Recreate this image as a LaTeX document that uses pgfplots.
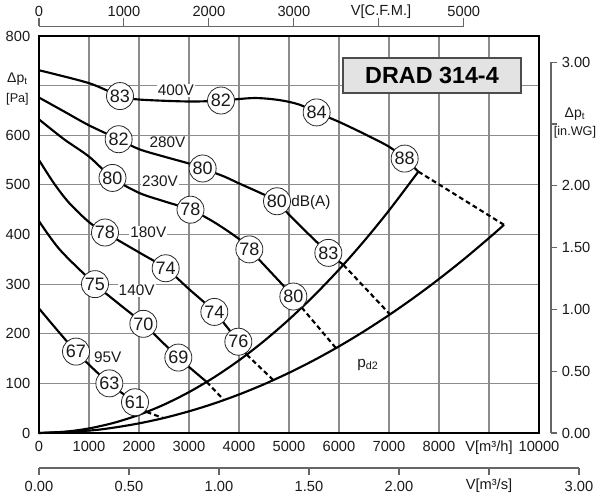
\documentclass[border=0pt]{standalone}
\usepackage{fontspec}
\setmainfont{Liberation Sans}
\usepackage{pgfplots}
\pgfplotsset{compat=1.18}
\newcommand\fs[1]{\fontsize{#1}{#1}\selectfont}
\definecolor{gridc}{HTML}{8C8C8C}
\definecolor{scalec}{HTML}{666666}
\definecolor{txt}{HTML}{1A1A1A}
\definecolor{boxc}{HTML}{E3E3E3}
\begin{document}
\begin{tikzpicture}
\begin{axis}[
 at={(0,0)}, anchor=south west,
 scale only axis, width=375pt, height=297.75pt,
 xmin=0, xmax=10000, ymin=0, ymax=800,
 clip=false,
 xtick={0,1000,2000,3000,4000,5000,6000,7000,8000,9000,10000},
 xticklabels={0,1000,2000,3000,4000,5000,6000,7000,8000,{V[m³/h]},10000},
 ytick={0,100,200,300,400,500,600,700,800},
 yticklabels={0,100,200,300,400,500,600,{},800},
 major tick length=0pt,
 grid=major,
 major grid style={gridc, line width=0.8pt},
 axis line style={line width=2.2pt, black},
 xticklabel style={anchor=base, yshift=-13.9pt, font=\fs{11}, text=txt, inner sep=0pt},
 yticklabel style={anchor=east, xshift=-6.4pt, font=\fs{11}, text=txt, inner sep=0pt},
 scaled ticks=false,
]
% system curves
\addplot[black, line width=1.6pt, smooth] coordinates {(0,0) (500,2.3) (1000,9.2) (1500,20.6) (2000,36.6) (2500,57.2) (3000,82.4) (3500,112.1) (4000,146.4) (4500,185.3) (5000,228.8) (5500,276.8) (6000,329.4) (6500,386.6) (7000,448.4) (7587,526.7)};
\addplot[black, line width=1.6pt, smooth] coordinates {(0,0) (1000,4.9) (1500,10.9) (2000,19.4) (2500,30.3) (3000,43.7) (3500,59.4) (4000,77.6) (4500,98.2) (5000,121.3) (5500,146.7) (6000,174.6) (6500,204.9) (7000,237.7) (7500,272.8) (8000,310.4) (8500,350.4) (9000,392.9) (9300,419.5)};
% fan curves
\addplot[black, line width=1.6pt, smooth] coordinates {(0,731) (1000,705) (1620,679) (2000,672) (3000,668) (3640,670) (4300,675) (4800,671) (5200,662) (5553,646) (6000,627) (6500,603) (7000,577) (7313,553) (7587,526.7)};
\addplot[black, line width=1.6pt, smooth] coordinates {(0,676) (500,648) (1000,620) (1593,592) (2000,572) (2500,557) (3000,543) (3273,533) (3700,517) (4000,503) (4400,485) (4760,467) (5000,440) (5400,400) (5787,363) (6087,339)};
\addplot[black, line width=1.6pt, smooth] coordinates {(0,632) (500,592) (1000,557) (1470,514) (2000,484) (2500,467) (3030,450) (3500,425) (4000,391) (4207,370) (4600,328) (5087,275) (5253,253)};
\addplot[black, line width=1.6pt, smooth] coordinates {(0,550) (300,503) (600,464) (1000,425) (1320,404) (2000,364) (2533,332) (3000,290) (3507,244) (3987,184) (4153,158)};
\addplot[black, line width=1.6pt, smooth] coordinates {(0,427) (420,369) (1120,300) (1600,260) (2087,220) (2787,152) (3353,103)};
\addplot[black, line width=1.6pt, smooth] coordinates {(0,251) (740,164) (1407,100) (1920,62) (2153,42.4)};
% dashed connections
\addplot[black, line width=1.6pt, dash pattern=on 3.6pt off 2.4pt] coordinates {(7587,526.7) (9300,419.5)};
\addplot[black, line width=1.6pt, dash pattern=on 3.6pt off 2.4pt] coordinates {(6087,339) (7020,239)};
\addplot[black, line width=1.6pt, dash pattern=on 3.6pt off 2.4pt] coordinates {(5253,253) (5940,171)};
\addplot[black, line width=1.6pt, dash pattern=on 3.6pt off 2.4pt] coordinates {(4153,158) (4687,106.5)};
\addplot[black, line width=1.6pt, dash pattern=on 3.6pt off 2.4pt] coordinates {(3353,103) (3700,66.4)};
\addplot[black, line width=1.6pt, dash pattern=on 3.6pt off 2.4pt] coordinates {(2153,42.4) (2487,30)};
% sound level circles
\addplot[draw=none, mark=none, point meta=explicit symbolic, nodes near coords,
 nodes near coords style={circle, draw=black!85, line width=0.6pt, fill=white, minimum size=20.25pt, inner sep=0pt, anchor=center, font=\fs{13.5}, text=txt}]
 coordinates {
 (1620,679) [83] (3640,670) [82] (5553,646) [84] (7313,553) [88]
 (1593,592) [82] (3273,533) [80] (4760,467) [80] (5787,363) [83]
 (1470,514) [80] (3030,450) [78] (4207,370) [78] (5087,275) [80]
 (1320,404) [78] (2533,332) [74] (3507,244) [74] (3987,184) [76]
 (1120,300) [75] (2087,220) [70] (2787,152) [69]
 (740,164) [67] (1407,100) [63] (1920,62) [61]
 };
% voltage labels
\node[fill=white, inner sep=0.8pt, font=\fs{11.5}, text=txt] at (axis cs:2737,690) {400V};
\node[fill=white, inner sep=0.8pt, font=\fs{11.5}, text=txt] at (axis cs:2570,585) {280V};
\node[fill=white, inner sep=0.8pt, font=\fs{11.5}, text=txt] at (axis cs:2420,508) {230V};
\node[fill=white, inner sep=0.8pt, font=\fs{11.5}, text=txt] at (axis cs:2187,404) {180V};
\node[fill=white, inner sep=0.8pt, font=\fs{11.5}, text=txt] at (axis cs:1953,287) {140V};
\node[fill=white, inner sep=0.8pt, font=\fs{11.5}, text=txt] at (axis cs:1376,153) {95V};
\node[anchor=west, fill=white, inner sep=0.8pt, font=\fs{11.5}, text=txt] at (axis cs:5020,465) {dB(A)};
\node[font=\fs{11.5}, text=txt] at (axis cs:6580,137) {p\textsubscript{d2}};
% title
\node[draw=black!70, line width=0.8pt, fill=boxc, minimum width=133.5pt, minimum height=26.25pt, inner sep=0pt, font=\bfseries\fs{17.5}, text=black] at (axis cs:7860,720.4) {DRAD 314-4};
% left axis label
\node[font=\fs{10.5}, text=txt] at (axis cs:-430,713) {Δp\textsubscript{t}};
\node[font=\fs{9.5}, text=txt] at (axis cs:-430,673) {[Pa]};
% top scale C.F.M.
\draw[scalec, line width=0.8pt] (axis cs:0,820.1) -- (axis cs:8495,820.1);
\draw[scalec, line width=0.8pt] (axis cs:0,820.1) -- (axis cs:0,836.3);
\draw[scalec, line width=0.8pt] (axis cs:1699,820.1) -- (axis cs:1699,836.3);
\draw[scalec, line width=0.8pt] (axis cs:3398,820.1) -- (axis cs:3398,836.3);
\draw[scalec, line width=0.8pt] (axis cs:5097,820.1) -- (axis cs:5097,836.3);
\draw[scalec, line width=0.8pt] (axis cs:6796,820.1) -- (axis cs:6796,836.3);
\draw[scalec, line width=0.8pt] (axis cs:8495,820.1) -- (axis cs:8495,836.3);
\node[font=\fs{11}, text=txt] at (axis cs:0,849.3) {0};
\node[font=\fs{11}, text=txt] at (axis cs:1699,849.3) {1000};
\node[font=\fs{11}, text=txt] at (axis cs:3398,849.3) {2000};
\node[font=\fs{11}, text=txt] at (axis cs:5097,849.3) {3000};
\node[font=\fs{11}, text=txt] at (axis cs:6840,849.3) {V[C.F.M.]};
\node[font=\fs{11}, text=txt] at (axis cs:8495,849.3) {5000};
% bottom scale m3/s
\draw[scalec, line width=0.8pt] (axis cs:0,-70.5) -- (axis cs:10800,-70.5);
\draw[scalec, line width=0.8pt] (axis cs:0,-70.5) -- (axis cs:0,-84.6);
\draw[scalec, line width=0.8pt] (axis cs:1800,-70.5) -- (axis cs:1800,-84.6);
\draw[scalec, line width=0.8pt] (axis cs:3600,-70.5) -- (axis cs:3600,-84.6);
\draw[scalec, line width=0.8pt] (axis cs:5400,-70.5) -- (axis cs:5400,-84.6);
\draw[scalec, line width=0.8pt] (axis cs:7200,-70.5) -- (axis cs:7200,-84.6);
\draw[scalec, line width=0.8pt] (axis cs:9000,-70.5) -- (axis cs:9000,-84.6);
\draw[scalec, line width=0.8pt] (axis cs:10800,-70.5) -- (axis cs:10800,-84.6);
\node[font=\fs{11}, text=txt] at (axis cs:0,-106.8) {0.00};
\node[font=\fs{11}, text=txt] at (axis cs:1800,-106.8) {0.50};
\node[font=\fs{11}, text=txt] at (axis cs:3600,-106.8) {1.00};
\node[font=\fs{11}, text=txt] at (axis cs:5400,-106.8) {1.50};
\node[font=\fs{11}, text=txt] at (axis cs:7200,-106.8) {2.00};
\node[font=\fs{11}, text=txt] at (axis cs:9000,-106.8) {V[m³/s]};
\node[font=\fs{11}, text=txt] at (axis cs:10800,-106.8) {3.00};
% right scale in.WG
\draw[scalec, line width=0.8pt] (axis cs:10240,0) -- (axis cs:10240,747.3);
\draw[scalec, line width=0.8pt] (axis cs:10240,0) -- (axis cs:10360,0);
\draw[scalec, line width=0.8pt] (axis cs:10240,124.5) -- (axis cs:10360,124.5);
\draw[scalec, line width=0.8pt] (axis cs:10240,249.1) -- (axis cs:10360,249.1);
\draw[scalec, line width=0.8pt] (axis cs:10240,373.6) -- (axis cs:10360,373.6);
\draw[scalec, line width=0.8pt] (axis cs:10240,498.2) -- (axis cs:10360,498.2);
\draw[scalec, line width=0.8pt] (axis cs:10240,622.7) -- (axis cs:10360,622.7);
\draw[scalec, line width=0.8pt] (axis cs:10240,747.3) -- (axis cs:10360,747.3);
\node[anchor=west, inner sep=0pt, font=\fs{11}, text=txt] at (axis cs:10450,0) {0.00};
\node[anchor=west, inner sep=0pt, font=\fs{11}, text=txt] at (axis cs:10450,124.5) {0.50};
\node[anchor=west, inner sep=0pt, font=\fs{11}, text=txt] at (axis cs:10450,249.1) {1.00};
\node[anchor=west, inner sep=0pt, font=\fs{11}, text=txt] at (axis cs:10450,373.6) {1.50};
\node[anchor=west, inner sep=0pt, font=\fs{11}, text=txt] at (axis cs:10450,498.2) {2.00};
\node[anchor=west, inner sep=0pt, font=\fs{11}, text=txt] at (axis cs:10450,747.3) {3.00};
\node[inner sep=0.5pt, font=\fs{10.5}, text=txt] at (axis cs:10720,642) {Δp\textsubscript{t}};
\node[fill=white, inner sep=0.5pt, font=\fs{9.5}, text=txt] at (axis cs:10720,606) {[in.WG]};
\end{axis}
\pgfresetboundingbox
\useasboundingbox (-29.25pt,-50.25pt) rectangle (420.75pt,324.75pt);
\end{tikzpicture}
\end{document}
